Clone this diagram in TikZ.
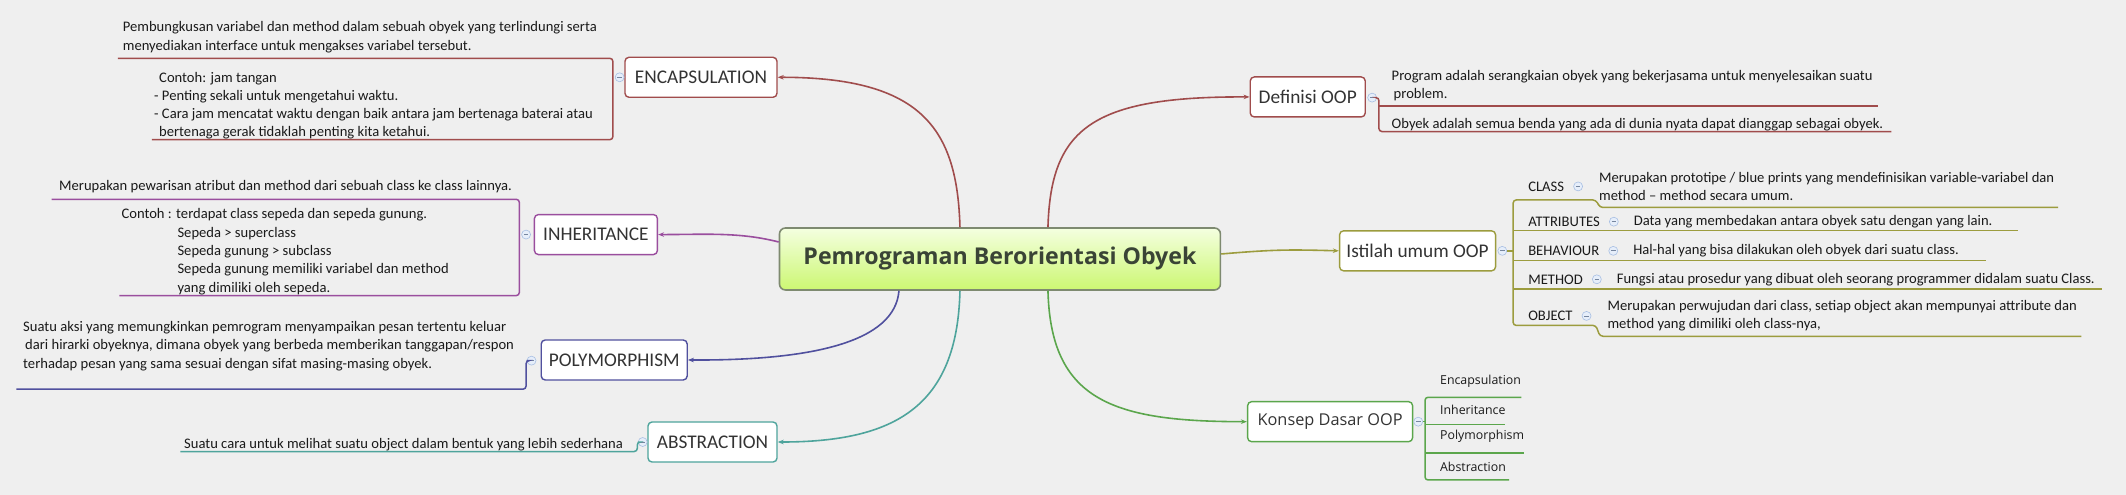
\documentclass[tikz,border=0pt]{standalone}
\usepackage{fontspec}
\setmainfont{Carlito}
\newfontfamily\osans{Open Sans}
\usetikzlibrary{arrows.meta,positioning}

\definecolor{bg}{HTML}{EFEFEF}
\definecolor{cEnc}{HTML}{A04C4C}
\definecolor{cInh}{HTML}{9A4E9E}
\definecolor{cPol}{HTML}{50509E}
\definecolor{cAbs}{HTML}{4EA49C}
\definecolor{cIst}{HTML}{9C9C3E}
\definecolor{cKon}{HTML}{5BA64C}
\definecolor{cCenB}{HTML}{7E8A70}
\definecolor{cCenT}{HTML}{F4FFE0}
\definecolor{cCenBot}{HTML}{CCF772}
\definecolor{cCenTxt}{HTML}{3A4436}
\definecolor{cTxt}{HTML}{1A1A1A}
\definecolor{cBoxTxt}{HTML}{333333}
\definecolor{cColB}{HTML}{A8BFE3}
\definecolor{cColF}{HTML}{E6EEFA}

\newlength\mmw
% #1 macro, #2 font switch, #3 text, #4 target width (pt)
\newcommand\mmfac[4]{\settowidth\mmw{#2\fontsize{10}{12}\selectfont #3}\pgfmathsetmacro#1{10*#4/\mmw}}
\newcommand\mmstrut{\rule{0pt}{12pt}}

\tikzset{
  mmbox/.style={draw=#1, line width=1.4pt, rounded corners=4pt, fill=white,
    font=\fontsize{\mmbs}{22}\selectfont, text=cBoxTxt, minimum height=40pt,
    inner xsep=4pt, align=center},
  mmdesc/.style={font=\fontsize{\mmds}{18.3}\selectfont, text=cTxt, align=left, inner sep=0pt},
  mmlab/.style={font=\fontsize{\mmls}{14}\selectfont, text=cTxt, inner sep=0pt, anchor=west},
  mmkid/.style={font=\osans\fontsize{\mmks}{14}\selectfont, text=cTxt, inner sep=0pt, anchor=west},
  mmul/.style={draw=#1, line width=1.5pt, rounded corners=3pt},
  mmlink/.style={draw=#1, line width=1.6pt, -{Stealth[length=6pt,width=4.5pt]}},
  mmcol/.style={circle, draw=cColB, fill=cColF, line width=0.6pt, minimum size=9pt,
    inner sep=0pt, path picture={\draw[cColB!70!black, line width=0.7pt]
      ([xshift=-2.3pt]path picture bounding box.center) --
      ([xshift=2.3pt]path picture bounding box.center);}},
}

\begin{document}
% font sizes fitted to the widths measured on the reference
\mmfac\fa{}{Pembungkusan variabel dan method dalam sebuah obyek yang terlindungi serta}{477}%
\mmfac\fb{}{Suatu cara untuk melihat suatu object dalam bentuk yang lebih sederhana}{437}%
\mmfac\fc{}{Fungsi atau prosedur yang dibuat oleh seorang programmer didalam suatu Class.}{478}%
\mmfac\fd{}{Obyek adalah semua benda yang ada di dunia nyata dapat dianggap sebagai obyek.}{498}%
\mmfac\fe{}{Merupakan pewarisan atribut dan method dari sebuah class ke class lainnya.}{454}%
\mmfac\ff{}{Data yang membedakan antara obyek satu dengan yang lain.}{352}%
\pgfmathsetmacro\mmds{(\fa+\fb+\fc+\fd+\fe+\ff)/6}%
\mmfac\ba{}{ENCAPSULATION}{133}%
\mmfac\bb{}{INHERITANCE}{107.5}%
\mmfac\bc{}{POLYMORPHISM}{130.6}%
\mmfac\bd{}{ABSTRACTION}{110}%
\mmfac\be{}{Definisi OOP}{98}%
\mmfac\bf{}{Istilah umum OOP}{141}%
\pgfmathsetmacro\mmbs{(\ba+\bb+\bc+\bd+\be+\bf)/6}%
\mmfac\ca{\osans\bfseries}{Pemrograman Berorientasi Obyek}{393}%
\pgfmathsetmacro\mmcs{\ca}%
\mmfac\ka{\osans}{Konsep Dasar OOP}{145}%
\pgfmathsetmacro\mmkbs{\ka}%
\mmfac\kb{\osans}{Encapsulation}{80.7}%
\mmfac\kc{\osans}{Polymorphism}{84}%
\pgfmathsetmacro\mmks{(\kb+\kc)/2}%
\mmfac\la{}{ATTRIBUTES}{71.6}%
\mmfac\lb{}{CLASS}{36.4}%
\mmfac\lc{}{METHOD}{53.7}%
\pgfmathsetmacro\mmls{(\la+\lb+\lc)/3}%
\begin{tikzpicture}[x=1.356pt, y=-1.356pt]
\useasboundingbox (0,0) rectangle (1568,365);
\fill[bg] (0,0) rectangle (1568,365);

% central
\node[draw=cCenB, line width=1.6pt, rounded corners=6pt, top color=cCenT,
  bottom color=cCenBot, minimum width=441pt, minimum height=62pt,
  font=\osans\bfseries\fontsize{\mmcs}{26}\selectfont, text=cCenTxt]
  (root) at (737.5,191) {Pemrograman Berorientasi Obyek};

% main topic boxes
\node[mmbox=cEnc, minimum width=152pt] (enc) at (517,57) {ENCAPSULATION};
\node[mmbox=cInh, minimum width=123pt] (inh) at (439.5,173) {INHERITANCE};
\node[mmbox=cPol, minimum width=146pt] (pol) at (453,265.5) {POLYMORPHISM};
\node[mmbox=cAbs, minimum width=129pt] (abs) at (525.5,326) {ABSTRACTION};
\node[mmbox=cEnc, minimum width=115pt] (def) at (964.5,71.5) {Definisi OOP};
\node[mmbox=cIst, minimum width=156pt] (ist) at (1045.5,185) {Istilah umum OOP};
\node[mmbox=cKon, minimum width=165pt, font=\osans\fontsize{\mmkbs}{18}\selectfont] (kon) at (981,311) {Konsep Dasar OOP};

% links
\draw[mmlink=cEnc] ([xshift=-40pt]root.north) .. controls (706,95) and (680,57) .. (enc.east);
\draw[mmlink=cEnc] ([xshift=48pt]root.north) .. controls (775,95) and (805,71) .. (def.west);
\draw[mmlink=cInh] ([yshift=17pt]root.west) .. controls (545,171) and (520,173) .. (inh.east);
\draw[mmlink=cIst] ([yshift=5pt]root.east) .. controls (940,184) and (950,184) .. (ist.west);
\draw[mmlink=cPol] ([xshift=-101pt]root.south) .. controls (660,252) and (600,266) .. (pol.east);
\draw[mmlink=cAbs] ([xshift=-40pt]root.south) .. controls (706,300) and (660,326) .. (abs.east);
\draw[mmlink=cKon] ([xshift=48pt]root.south) .. controls (775,295) and (820,311) .. (kon.west);

% ---------- ENCAPSULATION
\node[mmcol] (encc) at (457,57) {};
\node[mmdesc, anchor=north west] (enc1) at (90.5,14.5) {\mmstrut Pembungkusan variabel dan method dalam sebuah obyek yang terlindungi serta\\menyediakan interface untuk mengakses variabel tersebut.};
\node[mmdesc, anchor=north west] (enc2) at (113.6,51.5) {\mmstrut\hspace*{5pt}Contoh: jam tangan\\- Penting sekali untuk mengetahui waktu.\\- Cara jam mencatat waktu dengan baik antara jam bertenaga baterai atau\\\hspace*{5pt}bertenaga gerak tidaklah penting kita ketahui.};
\draw[mmul=cEnc] (87,43) -- (452,43) -- (452,103) -- (112,103);

% ---------- INHERITANCE
\node[mmcol] (inhc) at (388,173) {};
\node[mmdesc, anchor=north west] (inh1) at (43.5,131.5) {\mmstrut Merupakan pewarisan atribut dan method dari sebuah class ke class lainnya.};
\node[mmdesc, anchor=north west] (inh2) at (89.5,152.5) {\mmstrut Contoh : terdapat class sepeda dan sepeda gunung.\\\hspace*{56pt}Sepeda > superclass\\\hspace*{56pt}Sepeda gunung > subclass\\\hspace*{56pt}Sepeda gunung memiliki variabel dan method\\\hspace*{56pt}yang dimiliki oleh sepeda.};
\draw[mmul=cInh] (38,147) -- (383,147) -- (383,218) -- (88,218);

% ---------- POLYMORPHISM
\node[mmcol] (polc) at (392,266) {};
\node[mmdesc, anchor=north west] (pol1) at (17,235.5) {\mmstrut Suatu aksi yang memungkinkan pemrogram menyampaikan pesan tertentu keluar\\\hspace*{2pt}dari hirarki obyeknya, dimana obyek yang berbeda memberikan tanggapan/respon\\terhadap pesan yang sama sesuai dengan sifat masing-masing obyek.};
\draw[mmul=cPol] (12,287) -- (388,287) -- (388,266) -- (polc.west);

% ---------- ABSTRACTION
\node[mmcol] (absc) at (474,326) {};
\node[mmdesc, anchor=north west] (abs1) at (135.7,321.5) {\mmstrut Suatu cara untuk melihat suatu object dalam bentuk yang lebih sederhana};
\draw[mmul=cAbs] (133,333) -- (470,333) -- (470,326) -- (absc.west);

% ---------- Definisi OOP
\node[mmcol] (defc) at (1012,72) {};
\node[mmdesc, anchor=north west] (def1) at (1026.3,50.5) {\mmstrut Program adalah serangkaian obyek yang bekerjasama untuk menyelesaikan suatu\\\hspace*{2pt}problem.};
\node[mmdesc, anchor=north west] (def2) at (1026.3,85.5) {\mmstrut Obyek adalah semua benda yang ada di dunia nyata dapat dianggap sebagai obyek.};
\draw[mmul=cEnc] (defc.east) -| (1017,97) -- (1395,97);
\draw[mmul=cEnc] (1017,78) -- (1385,78);

% ---------- Istilah umum OOP
\node[mmcol] (istc) at (1108,185) {};
\node[mmlab] (lcls) at (1127,137.5) {CLASS};
\node[mmlab] (latt) at (1127,163.5) {ATTRIBUTES};
\node[mmlab] (lbeh) at (1127,185) {BEHAVIOUR};
\node[mmlab] (lmet) at (1127,206) {METHOD};
\node[mmlab] (lobj) at (1127,233) {OBJECT};
\node[mmcol, right=9pt of lcls] (ccls) {};
\node[mmcol, right=9pt of latt] (catt) {};
\node[mmcol, right=9pt of lbeh] (cbeh) {};
\node[mmcol, right=9pt of lmet] (cmet) {};
\node[mmcol, right=9pt of lobj] (cobj) {};
\node[mmdesc, right=16pt of ccls] (dcls) {Merupakan prototipe / blue prints yang mendefinisikan variable-variabel dan\\method -- method secara umum.};
\node[mmdesc, right=15pt of catt] (datt) {Data yang membedakan antara obyek satu dengan yang lain.};
\node[mmdesc, right=15pt of cbeh] (dbeh) {Hal-hal yang bisa dilakukan oleh obyek dari suatu class.};
\node[mmdesc, right=15pt of cmet] (dmet) {Fungsi atau prosedur yang dibuat oleh seorang programmer didalam suatu Class.};
\node[mmdesc, right=16pt of cobj] (dobj) {Merupakan perwujudan dari class, setiap object akan mempunyai attribute dan\\method yang dimiliki oleh class-nya,};
\draw[mmul=cIst] (1518,153) -- (1180,153) -- (1177,147.5) -- (1116,147.5) -- (1116,240) -- (1177,240) -- (1180,248) -- (1535,248);
\draw[mmul=cIst] (istc.east) -- (1116,185);
\draw[mmul=cIst] (1116,170) -- (1488,170);
\draw[mmul=cIst] (1116,192) -- (1465,192);
\draw[mmul=cIst] (1116,213) -- (1550,213);

% ---------- Konsep Dasar OOP
\node[mmcol] (konc) at (1046,311) {};
\node[mmkid] (k1) at (1062,281) {Encapsulation};
\node[mmkid] (k2) at (1062,302) {Inheritance};
\node[mmkid] (k3) at (1062,322) {Polymorphism};
\node[mmkid] (k4) at (1062,344) {Abstraction};
\draw[mmul=cKon] (1122,293) -- (1051,293) -- (1051,354) -- (1113,354);
\draw[mmul=cKon] (konc.east) -- (1051,311);
\draw[mmul=cKon] (1051,313) -- (1110,313);
\draw[mmul=cKon] (1051,334) -- (1124,334);
\end{tikzpicture}
\end{document}
